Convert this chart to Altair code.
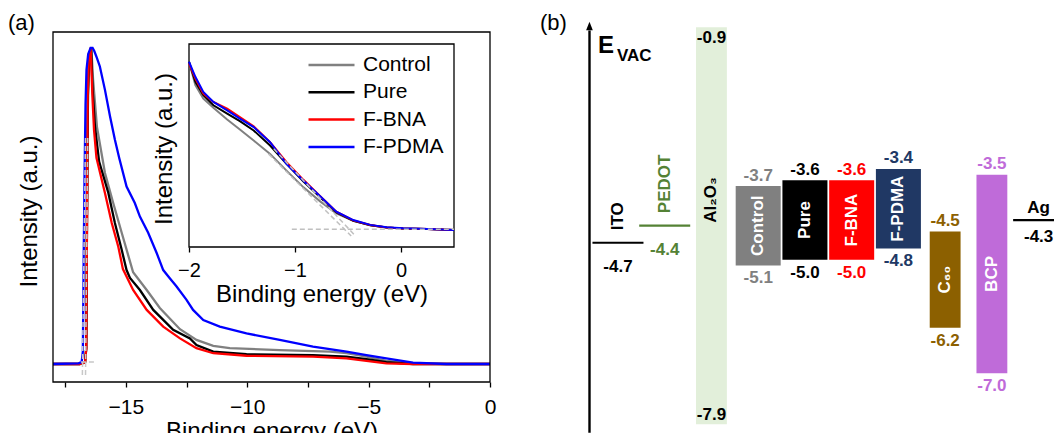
import altair as alt
import pandas as pd

FONT = "Liberation Sans"
W, H = 1046, 425

# ---------------- panel (a): UPS spectra ----------------
series = ["Control", "Pure", "F-BNA", "F-PDMA"]
series_colors = ["#808080", "#000000", "#ff0000", "#0000ff"]

main_E_range = [-18.0, 0.0]
main_I_range = [-0.057, 1.05]
inset_E_range = [-2.0, 0.5]
inset_I_range = [-0.106, 1.106]

ctrl_E = [-18.0, -16.90, -16.68, -16.63, -16.60, -16.56, -16.51, -16.42, -16.35, -16.19, -15.86, -15.52, -15.17,
          -14.70, -14.14, -13.60, -12.77, -12.09, -11.40, -10.72, -8.66, -6.60, -5.91, -5.09, -4.27, -3.17, -1.80, 0.0]
ctrl_I = [0.0, 0.0, 0.005, 0.05, 0.45, 0.85, 0.97, 1.0, 0.90, 0.75, 0.604, 0.509, 0.415,
          0.29, 0.234, 0.177, 0.11, 0.076, 0.057, 0.050, 0.044, 0.039, 0.034, 0.023, 0.010, 0.002, 0.0, 0.0]

pure_E = [-18.0, -16.90, -16.68, -16.63, -16.60, -16.56, -16.51, -16.43, -16.37, -16.27, -16.10, -15.72, -15.45,
          -15.17, -14.97, -14.83, -14.42, -13.87, -13.05, -12.36, -12.09, -11.40, -10.03, -7.29, -5.91, -5.09,
          -4.27, -3.17, -1.80, 0.0]
pure_I = [0.0, 0.0, 0.005, 0.05, 0.45, 0.85, 0.97, 1.0, 0.87, 0.75, 0.64, 0.541, 0.446,
          0.361, 0.297, 0.272, 0.234, 0.171, 0.108, 0.081, 0.060, 0.039, 0.031, 0.028, 0.023, 0.015,
          0.006, 0.0, 0.0, 0.0]

bna_E = [-18.0, -16.90, -16.68, -16.63, -16.60, -16.57, -16.52, -16.45, -16.37, -16.31, -16.21, -15.86, -15.58,
         -15.31, -15.12, -14.70, -14.14, -13.46, -12.77, -12.09, -11.40, -10.03, -7.29, -5.91, -5.09, -4.27,
         -3.17, 0.0]
bna_I = [0.0, 0.0, 0.005, 0.05, 0.45, 0.85, 0.97, 1.0, 0.835, 0.74, 0.652, 0.541, 0.446,
         0.371, 0.30, 0.234, 0.171, 0.118, 0.081, 0.050, 0.034, 0.026, 0.023, 0.018, 0.010, 0.002,
         0.0, 0.0]

pdma_E = [-18.0, -16.95, -16.82, -16.77, -16.74, -16.70, -16.66, -16.62, -16.55, -16.45, -16.37, -16.30, -16.20,
          -16.07, -15.86, -15.65, -15.45, -15.27, -14.97, -14.63, -14.42, -14.08, -13.73, -13.46, -13.19, -12.91,
          -12.50, -12.23, -11.81, -11.13, -10.03, -8.66, -7.29, -5.91, -5.09, -4.27, -3.17, -1.80, 0.0]
pdma_I = [0.0, 0.002, 0.006, 0.04, 0.30, 0.60, 0.82, 0.93, 0.98, 1.0, 1.0, 0.99, 0.97,
          0.941, 0.867, 0.783, 0.709, 0.651, 0.561, 0.509, 0.466, 0.415, 0.351, 0.297, 0.271, 0.245,
          0.203, 0.171, 0.139, 0.118, 0.097, 0.076, 0.055, 0.039, 0.028, 0.018, 0.004, 0.0, 0.0]

# onset extrapolation lines (main)
fit_a_id = ["pdma", "pdma", "bna", "bna", "base", "base"]
fit_a_E = [-16.79, -16.66, -16.66, -16.57, -16.85, -16.20]
fit_a_I = [-0.035, 0.72, -0.035, 0.72, 0.006, 0.006]

# inset (valence band edge)
in_E = [-2.0, -1.94, -1.865, -1.77, -1.64, -1.52, -1.39, -1.235, -1.08, -0.92, -0.76, -0.61, -0.45, -0.29,
        -0.135, 0.02, 0.25, 0.5]
ctrl_in = [1.0, 0.86, 0.78, 0.725, 0.655, 0.595, 0.53, 0.45, 0.35, 0.25, 0.165, 0.095, 0.05, 0.024,
           0.011, 0.005, 0.001, -0.004]
pure_in = [1.0, 0.88, 0.80, 0.74, 0.69, 0.645, 0.59, 0.50, 0.39, 0.285, 0.19, 0.10, 0.05, 0.024,
           0.011, 0.005, 0.001, -0.004]
bna_in = [0.99, 0.90, 0.81, 0.76, 0.72, 0.67, 0.615, 0.52, 0.40, 0.295, 0.195, 0.105, 0.053, 0.025,
          0.011, 0.005, 0.001, -0.004]
pdma_in = [1.0, 0.91, 0.82, 0.76, 0.71, 0.66, 0.61, 0.52, 0.39, 0.29, 0.195, 0.105, 0.055, 0.026,
           0.012, 0.006, 0.002, -0.004]

fit_in_id = ["f1", "f1", "f2", "f2", "base", "base"]
fit_in_E = [-1.25, -0.47, -1.20, -0.43, -1.03, 0.5]
fit_in_I = [0.45, -0.04, 0.48, -0.04, 0.0, 0.0]

# ---------------- panel (b): energy levels ----------------
layer_ids = ["ITO", "PEDOT", "Al2O3", "Control", "Pure", "F-BNA", "F-PDMA", "C60", "BCP", "Ag"]
fill_colors = ["#000000", "#548235", "#e2efda", "#808080", "#000000", "#ff0000", "#203864", "#8c6000",
               "#bf6bd9", "#000000"]
text_colors = ["#000000", "#548235", "#000000", "#808080", "#000000", "#ff0000", "#203864", "#8c6000",
               "#bf6bd9", "#000000"]

bar_layers = ["Al2O3", "Control", "Pure", "F-BNA", "F-PDMA", "C60", "BCP"]
bar_names = ["Al\u2082O\u2083", "Control", "Pure", "F-BNA", "F-PDMA", "C\u2086\u2080", "BCP"]
bar_upper = [-0.9, -3.7, -3.6, -3.6, -3.4, -4.5, -3.5]
bar_lower = [-7.9, -5.1, -5.0, -5.0, -4.8, -6.2, -7.0]
wide_bars = ["Control", "Pure", "F-BNA", "F-PDMA"]
narrow_bars = ["Al2O3", "C60", "BCP"]

line_layers = ["ITO", "PEDOT", "Ag"]
line_level = [-4.7, -4.4, -4.3]

energy_range = [-8.04, -0.95]
arrow_tip_level = -0.88
evac_level = -1.36
panel_b_label_level = -0.955
panel_a_label_pos = (-19.853, 1.0557)

# ---------------- tables ----------------
main_rows = []
for name, es, is_ in zip(series, [ctrl_E, pure_E, bna_E, pdma_E], [ctrl_I, pure_I, bna_I, pdma_I]):
    for e, i in zip(es, is_):
        main_rows.append({"series": name, "E": e, "I": i})
df_main = pd.DataFrame(main_rows)

in_rows = []
for name, is_ in zip(series, [ctrl_in, pure_in, bna_in, pdma_in]):
    for e, i in zip(in_E, is_):
        in_rows.append({"series": name, "E": e, "I": i})
df_in = pd.DataFrame(in_rows)

df_fit_a = pd.DataFrame({"fit": fit_a_id, "E": fit_a_E, "I": fit_a_I})
df_fit_in = pd.DataFrame({"fit": fit_in_id, "E": fit_in_E, "I": fit_in_I})

df_main_frame = pd.DataFrame({"x0": [main_E_range[0]], "x1": [main_E_range[1]],
                              "y0": [main_I_range[0]], "y1": [main_I_range[1]]})
df_in_frame = pd.DataFrame({"x0": [inset_E_range[0]], "x1": [inset_E_range[1]],
                            "y0": [inset_I_range[0]], "y1": [inset_I_range[1]]})

df_bar = pd.DataFrame({
    "layer": bar_layers, "name": bar_names, "upper": bar_upper, "lower": bar_lower,
    "mid": [(u + l) / 2 for u, l in zip(bar_upper, bar_lower)],
    "up_txt": [f"{v:.1f}" for v in bar_upper], "lo_txt": [f"{v:.1f}" for v in bar_lower],
})
df_line = pd.DataFrame({"layer": line_layers, "level": line_level,
                        "txt": [f"{v:.1f}" for v in line_level]})
df_arrow = pd.DataFrame({"layer": ["ITO"], "level": [arrow_tip_level]})
df_evac = pd.DataFrame({"layer": ["ITO"], "level": [evac_level]})
df_blabel = pd.DataFrame({"layer": ["ITO"], "level": [panel_b_label_level], "t": ["(b)"]})
df_alabel = pd.DataFrame({"E": [panel_a_label_pos[0]], "I": [panel_a_label_pos[1]], "t": ["(a)"]})

# ---------------- scales ----------------
def xs_main():
    return alt.Scale(domain=main_E_range, range=[45, 482], nice=False, zero=False)

def ys_main():
    return alt.Scale(domain=main_I_range, range=[374, 24], nice=False, zero=False)

def xs_in():
    return alt.Scale(domain=inset_E_range, range=[181, 446], nice=False, zero=False)

def ys_in():
    return alt.Scale(domain=inset_I_range, range=[239, 36], nice=False, zero=False)

def xb(**kw):
    return alt.X("layer:N", scale=alt.Scale(domain=layer_ids, range=[586.6, 1054], paddingInner=0,
                                            paddingOuter=0), axis=None, **kw)

def yb(field, axis=None):
    return alt.Y(f"{field}:Q", scale=alt.Scale(domain=energy_range, range=[424.2, 22.0], nice=False,
                                               zero=False), axis=axis)

def cb(colors):
    return alt.Color("layer:N", scale=alt.Scale(domain=layer_ids, range=colors), legend=None)

# ---------------- panel (a) layers ----------------
main_curves = alt.Chart(df_main).mark_line(strokeWidth=2.3).encode(
    x=alt.X("E:Q", scale=xs_main(), axis=alt.Axis(
        orient="bottom", offset=-51, values=[-17.5, -15, -12.5, -10, -7.5, -5, -2.5, 0], format="d",
        labelExpr="datum.value % 5 == 0 ? datum.label : ''", tickSize=5, tickWidth=1.3,
        domain=False, grid=False, labelFontSize=21, labelPadding=9, labelFlush=False,
        title="Binding energy (eV)", titleFontSize=24, titleFontWeight="normal",
        titleX=263.5, titleY=56, titleAlign="center", titleBaseline="alphabetic")),
    y=alt.Y("I:Q", scale=ys_main(), axis=alt.Axis(
        orient="left", offset=-45, labels=False, ticks=False, domain=False, grid=False,
        title="Intensity (a.u.)", titleFontSize=24, titleFontWeight="normal",
        titleX=-16.8, titleY=203, titleAngle=270, titleAlign="center", titleBaseline="alphabetic")),
    color=alt.Color("series:N", scale=alt.Scale(domain=series, range=series_colors), legend=None),
    detail="series:N",
)

main_fits = alt.Chart(df_fit_a).mark_line(strokeWidth=1.5, strokeDash=[5, 3], color="#c8c8c8").encode(
    x=alt.X("E:Q", scale=xs_main(), axis=None),
    y=alt.Y("I:Q", scale=ys_main(), axis=None),
    detail="fit:N",
)

main_frame = alt.Chart(df_main_frame).mark_rect(fillOpacity=0, stroke="black", strokeWidth=1.3).encode(
    x=alt.X("x0:Q", scale=xs_main(), axis=None), x2="x1:Q",
    y=alt.Y("y0:Q", scale=ys_main(), axis=None), y2="y1:Q",
)

inset_frame = alt.Chart(df_in_frame).mark_rect(fill="white", stroke="black", strokeWidth=1.3).encode(
    x=alt.X("x0:Q", scale=xs_in(), axis=None), x2="x1:Q",
    y=alt.Y("y0:Q", scale=ys_in(), axis=None), y2="y1:Q",
)

inset_curves = alt.Chart(df_in).mark_line(strokeWidth=2).encode(
    x=alt.X("E:Q", scale=xs_in(), axis=alt.Axis(
        orient="bottom", offset=-186, values=[-2, -1.5, -1, -0.5, 0, 0.5], format="d",
        labelExpr="datum.value % 1 == 0 ? datum.label : ''", tickSize=5, tickWidth=1.3,
        domain=False, grid=False, labelFontSize=20, labelPadding=8, labelFlush=False,
        title="Binding energy (eV)", titleFontSize=24, titleFontWeight="normal",
        titleX=313.5, titleY=54, titleAlign="center", titleBaseline="alphabetic")),
    y=alt.Y("I:Q", scale=ys_in(), axis=alt.Axis(
        orient="left", offset=-181, labels=False, ticks=False, domain=False, grid=False,
        title="Intensity (a.u.)", titleFontSize=24, titleFontWeight="normal",
        titleX=-17.8, titleY=140.5, titleAngle=270, titleAlign="center", titleBaseline="alphabetic")),
    color=alt.Color("series:N", scale=alt.Scale(domain=series, range=series_colors), legend=alt.Legend(
        title=None, orient="none", legendX=299, legendY=47, symbolType="stroke", symbolSize=2116,
        symbolStrokeWidth=2.5, symbolOpacity=1, labelFontSize=21, labelFont=FONT, labelColor="black",
        clipHeight=20, rowPadding=6.3, labelOffset=7, padding=0, zindex=1)),
    detail="series:N",
)

inset_fits = alt.Chart(df_fit_in).mark_line(strokeWidth=1.5, strokeDash=[5, 3], color="#c0c0c0").encode(
    x=alt.X("E:Q", scale=xs_in(), axis=None),
    y=alt.Y("I:Q", scale=ys_in(), axis=None),
    detail="fit:N",
)

a_label = alt.Chart(df_alabel).mark_text(font=FONT, fontSize=22, align="left", baseline="alphabetic",
                                         color="black").encode(
    x=alt.X("E:Q", scale=xs_main(), axis=None),
    y=alt.Y("I:Q", scale=ys_main(), axis=None),
    text="t:N",
)

# ---------------- panel (b) layers ----------------
bars_narrow = alt.Chart(df_bar).mark_bar(width=alt.RelativeBandSize(0.66)).encode(
    x=xb(), y=yb("upper"), y2="lower:Q", color=cb(fill_colors),
).transform_filter(alt.FieldOneOfPredicate(field="layer", oneOf=narrow_bars))

bars_wide = alt.Chart(df_bar).mark_bar(width=alt.RelativeBandSize(0.963)).encode(
    x=xb(), y=yb("upper"), y2="lower:Q", color=cb(fill_colors),
).transform_filter(alt.FieldOneOfPredicate(field="layer", oneOf=wide_bars))

lines = alt.Chart(df_line).mark_tick(size=51, thickness=2.2, opacity=1).encode(
    x=xb(),
    y=yb("level", axis=alt.Axis(orient="left", offset=-581, domainWidth=2.4, domainColor="black",
                                ticks=False, labels=False, grid=False, title=None)),
    color=cb(fill_colors),
)

# arrow head on top of the vacuum-level axis (axis line sits at the left edge of the ITO slot)
arrow_head = alt.Chart(df_arrow).mark_point(shape="M0,-1L-0.8,1L0.8,1Z", filled=True, size=70, opacity=1,
                                             color="black", xOffset=-28.5).encode(
    x=xb(), y=yb("level"),
)

def btext(data, field, text, colors=None, **mark):
    enc = dict(x=xb(), y=yb(field), text=f"{text}:N")
    if colors is not None:
        enc["color"] = cb(colors)
    return alt.Chart(data).mark_text(font=FONT, fontWeight="bold", fontSize=17, **mark).encode(**enc)

not_al = [l for l in bar_layers if l != "Al2O3"]

top_labels = btext(df_bar, "upper", "up_txt", text_colors, baseline="bottom", dy=-1.5).transform_filter(
    alt.FieldOneOfPredicate(field="layer", oneOf=not_al))
bottom_labels = btext(df_bar, "lower", "lo_txt", text_colors, baseline="top", dy=5).transform_filter(
    alt.FieldOneOfPredicate(field="layer", oneOf=not_al))
al_top = btext(df_bar, "upper", "up_txt", text_colors, baseline="top", dy=3).transform_filter(
    alt.FieldEqualPredicate(field="layer", equal="Al2O3"))
al_bottom = btext(df_bar, "lower", "lo_txt", text_colors, baseline="bottom", dy=0).transform_filter(
    alt.FieldEqualPredicate(field="layer", equal="Al2O3"))
box_names = btext(df_bar, "mid", "name", None, angle=270, align="center", baseline="middle",
                  color="white").transform_filter(alt.FieldOneOfPredicate(field="layer", oneOf=not_al))
al_name = btext(df_bar, "mid", "name", None, angle=270, align="left", baseline="middle", dx=3,
                color="black").transform_filter(alt.FieldEqualPredicate(field="layer", equal="Al2O3"))

line_vals_a = btext(df_line, "level", "txt", text_colors, baseline="top", dy=16).transform_filter(
    alt.FieldOneOfPredicate(field="layer", oneOf=["ITO", "PEDOT"]))
line_vals_b = btext(df_line, "level", "txt", text_colors, baseline="top", dy=9).transform_filter(
    alt.FieldEqualPredicate(field="layer", equal="Ag"))
line_names_rot = btext(df_line, "level", "layer", text_colors, angle=270, align="left", baseline="middle",
                       dx=12.5).transform_filter(alt.FieldOneOfPredicate(field="layer", oneOf=["ITO", "PEDOT"]))
ag_name = btext(df_line, "level", "layer", text_colors, baseline="bottom", dy=-3).transform_filter(
    alt.FieldEqualPredicate(field="layer", equal="Ag"))

evac_E = alt.Chart(df_evac).mark_text(font=FONT, fontWeight="bold", fontSize=24, align="left",
                                      baseline="alphabetic", dx=-20, color="black", text="E").encode(
    x=xb(), y=yb("level"))
evac_sub = alt.Chart(df_evac).mark_text(font=FONT, fontWeight="bold", fontSize=17, align="left",
                                        baseline="alphabetic", dx=-1, dy=7.4, color="black",
                                        text="VAC").encode(x=xb(), y=yb("level"))
b_label = alt.Chart(df_blabel).mark_text(font=FONT, fontSize=22, align="left", baseline="alphabetic",
                                         dx=-78, color="black").encode(x=xb(), y=yb("level"), text="t:N")

chart = alt.layer(
    main_curves, main_fits, main_frame, inset_frame, inset_curves, inset_fits, a_label,
    bars_narrow, bars_wide, lines, arrow_head,
    top_labels, bottom_labels, al_top, al_bottom, box_names, al_name,
    line_vals_a, line_vals_b, line_names_rot, ag_name, evac_E, evac_sub, b_label,
).resolve_scale(
    x="independent", y="independent", color="independent"
).properties(
    width=W, height=H, autosize=alt.AutoSizeParams(type="none"), padding=0, background="white"
).configure_view(
    strokeWidth=0
).configure_axis(
    labelFont=FONT, titleFont=FONT, labelColor="black", titleColor="black", tickColor="black",
    domainColor="black"
)

chart.save("out.html", embed_options={"renderer": "svg", "actions": False})
